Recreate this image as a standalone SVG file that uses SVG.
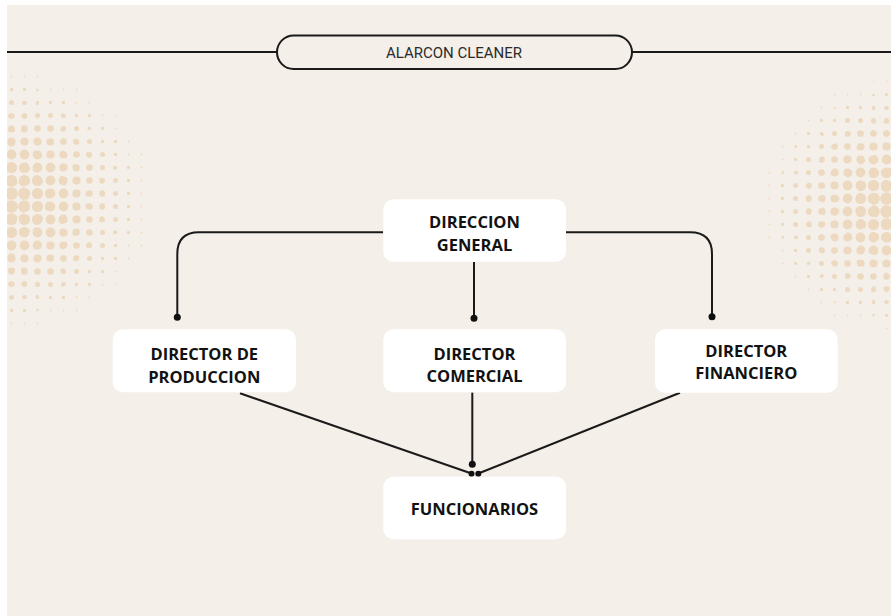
<svg xmlns="http://www.w3.org/2000/svg" width="891" height="616" viewBox="0 0 891 616">
<style>
.box{fill:#ffffff;}
.lbl{font-family:"Open Sans","Liberation Sans",sans-serif;font-weight:700;font-size:16.5px;fill:#121212;text-anchor:middle;}
.ttl{font-family:Roboto,"Liberation Sans",sans-serif;font-size:15px;fill:#2b2b2b;text-anchor:middle;}
.ln{fill:none;stroke:#1a1a1a;stroke-width:2;}
.dot{fill:#111111;}
</style>
<defs>
<pattern id="p1" width="13" height="13" patternUnits="userSpaceOnUse"><circle cx="6.5" cy="6.5" r="0.9" fill="#ecd9bf"/></pattern>
<pattern id="p2" width="13" height="13" patternUnits="userSpaceOnUse"><circle cx="6.5" cy="6.5" r="1.7" fill="#ecd9bf"/></pattern>
<pattern id="p3" width="13" height="13" patternUnits="userSpaceOnUse"><circle cx="6.5" cy="6.5" r="2.5" fill="#ecd9bf"/></pattern>
<pattern id="p4" width="13" height="13" patternUnits="userSpaceOnUse"><circle cx="6.5" cy="6.5" r="3.3" fill="#ecd9bf"/></pattern>
<pattern id="p5" width="13" height="13" patternUnits="userSpaceOnUse"><circle cx="6.5" cy="6.5" r="4.1" fill="#ecd9bf"/></pattern>
<pattern id="p6" width="13" height="13" patternUnits="userSpaceOnUse"><circle cx="6.5" cy="6.5" r="4.9" fill="#ecd9bf"/></pattern>
<pattern id="p7" width="13" height="13" patternUnits="userSpaceOnUse"><circle cx="6.5" cy="6.5" r="5.6" fill="#ecd9bf"/></pattern>
<pattern id="p8" width="13" height="13" patternUnits="userSpaceOnUse"><circle cx="6.5" cy="6.5" r="6.3" fill="#ecd9bf"/></pattern>
<clipPath id="bgclip"><rect x="7" y="5" width="884" height="611"/></clipPath>
</defs>
<rect width="891" height="616" fill="#ffffff"/>
<rect x="7" y="5" width="884" height="611" fill="#f4efe9"/>
<g id="halftone" clip-path="url(#bgclip)">
<g transform="translate(5,200)">
<ellipse rx="148" ry="128" fill="url(#p1)"/>
<ellipse rx="132" ry="114" fill="url(#p2)"/>
<ellipse rx="116" ry="100" fill="url(#p3)"/>
<ellipse rx="100" ry="86" fill="url(#p4)"/>
<ellipse rx="82" ry="71" fill="url(#p5)"/>
<ellipse rx="64" ry="56" fill="url(#p6)"/>
<ellipse rx="44" ry="39" fill="url(#p7)"/>
<ellipse rx="24" ry="22" fill="url(#p8)"/>
</g>
<g transform="translate(893,205)">
<ellipse rx="130" ry="125" fill="url(#p1)"/>
<ellipse rx="116" ry="112" fill="url(#p2)"/>
<ellipse rx="102" ry="98" fill="url(#p3)"/>
<ellipse rx="87" ry="84" fill="url(#p4)"/>
<ellipse rx="71" ry="68" fill="url(#p5)"/>
<ellipse rx="55" ry="53" fill="url(#p6)"/>
<ellipse rx="38" ry="37" fill="url(#p7)"/>
<ellipse rx="21" ry="21" fill="url(#p8)"/>
</g>
</g>
<g id="header">
<line class="ln" x1="7" y1="52" x2="277" y2="52"/>
<line class="ln" x1="632" y1="52" x2="891" y2="52"/>
<rect x="277" y="35.5" width="355" height="33.5" rx="16.7" fill="none" stroke="#1a1a1a" stroke-width="2"/>
<text class="ttl" x="454" y="58">ALARCON CLEANER</text>
</g>
<g id="connectors">
<path class="ln" d="M383,232.3 H199 Q177.3,232.3 177.3,254 V317"/>
<path class="ln" d="M566,232.3 H690 Q712,232.3 712,254 V317"/>
<path class="ln" d="M474,262 V318"/>
<path class="ln" d="M472.3,392.5 V464"/>
<path class="ln" d="M240,393.3 L471.5,473.5"/>
<path class="ln" d="M680,392.7 L478.3,473.5"/>
<circle class="dot" cx="177.3" cy="317.3" r="3.5"/>
<circle class="dot" cx="712" cy="316.8" r="3.5"/>
<circle class="dot" cx="474" cy="318.3" r="3.5"/>
<circle class="dot" cx="472.3" cy="464.2" r="3.5"/>
<circle class="dot" cx="471.5" cy="473.8" r="3"/>
<circle class="dot" cx="478.3" cy="473.8" r="3"/>
</g>
<g id="direccion-general">
<rect class="box" x="383.3" y="199.3" width="182.7" height="62.4" rx="10"/>
<text class="lbl" x="474.5" y="228.3">DIRECCION</text>
<text class="lbl" x="474.5" y="250.7">GENERAL</text>
</g>
<g id="director-produccion">
<rect class="box" x="112.7" y="329.3" width="183.3" height="63" rx="10"/>
<text class="lbl" x="204.3" y="360">DIRECTOR DE</text>
<text class="lbl" x="204.3" y="382.7">PRODUCCION</text>
</g>
<g id="director-comercial">
<rect class="box" x="383.3" y="329.3" width="182.7" height="63" rx="10"/>
<text class="lbl" x="474.5" y="359.5">DIRECTOR</text>
<text class="lbl" x="474.5" y="382.2">COMERCIAL</text>
</g>
<g id="director-financiero">
<rect class="box" x="655" y="329.3" width="182.7" height="63.4" rx="10"/>
<text class="lbl" x="746.3" y="356.7">DIRECTOR</text>
<text class="lbl" x="746.3" y="379.3">FINANCIERO</text>
</g>
<g id="funcionarios">
<rect class="box" x="383.3" y="476.7" width="182.7" height="62.6" rx="10"/>
<text class="lbl" x="474.5" y="515">FUNCIONARIOS</text>
</g>
</svg>
